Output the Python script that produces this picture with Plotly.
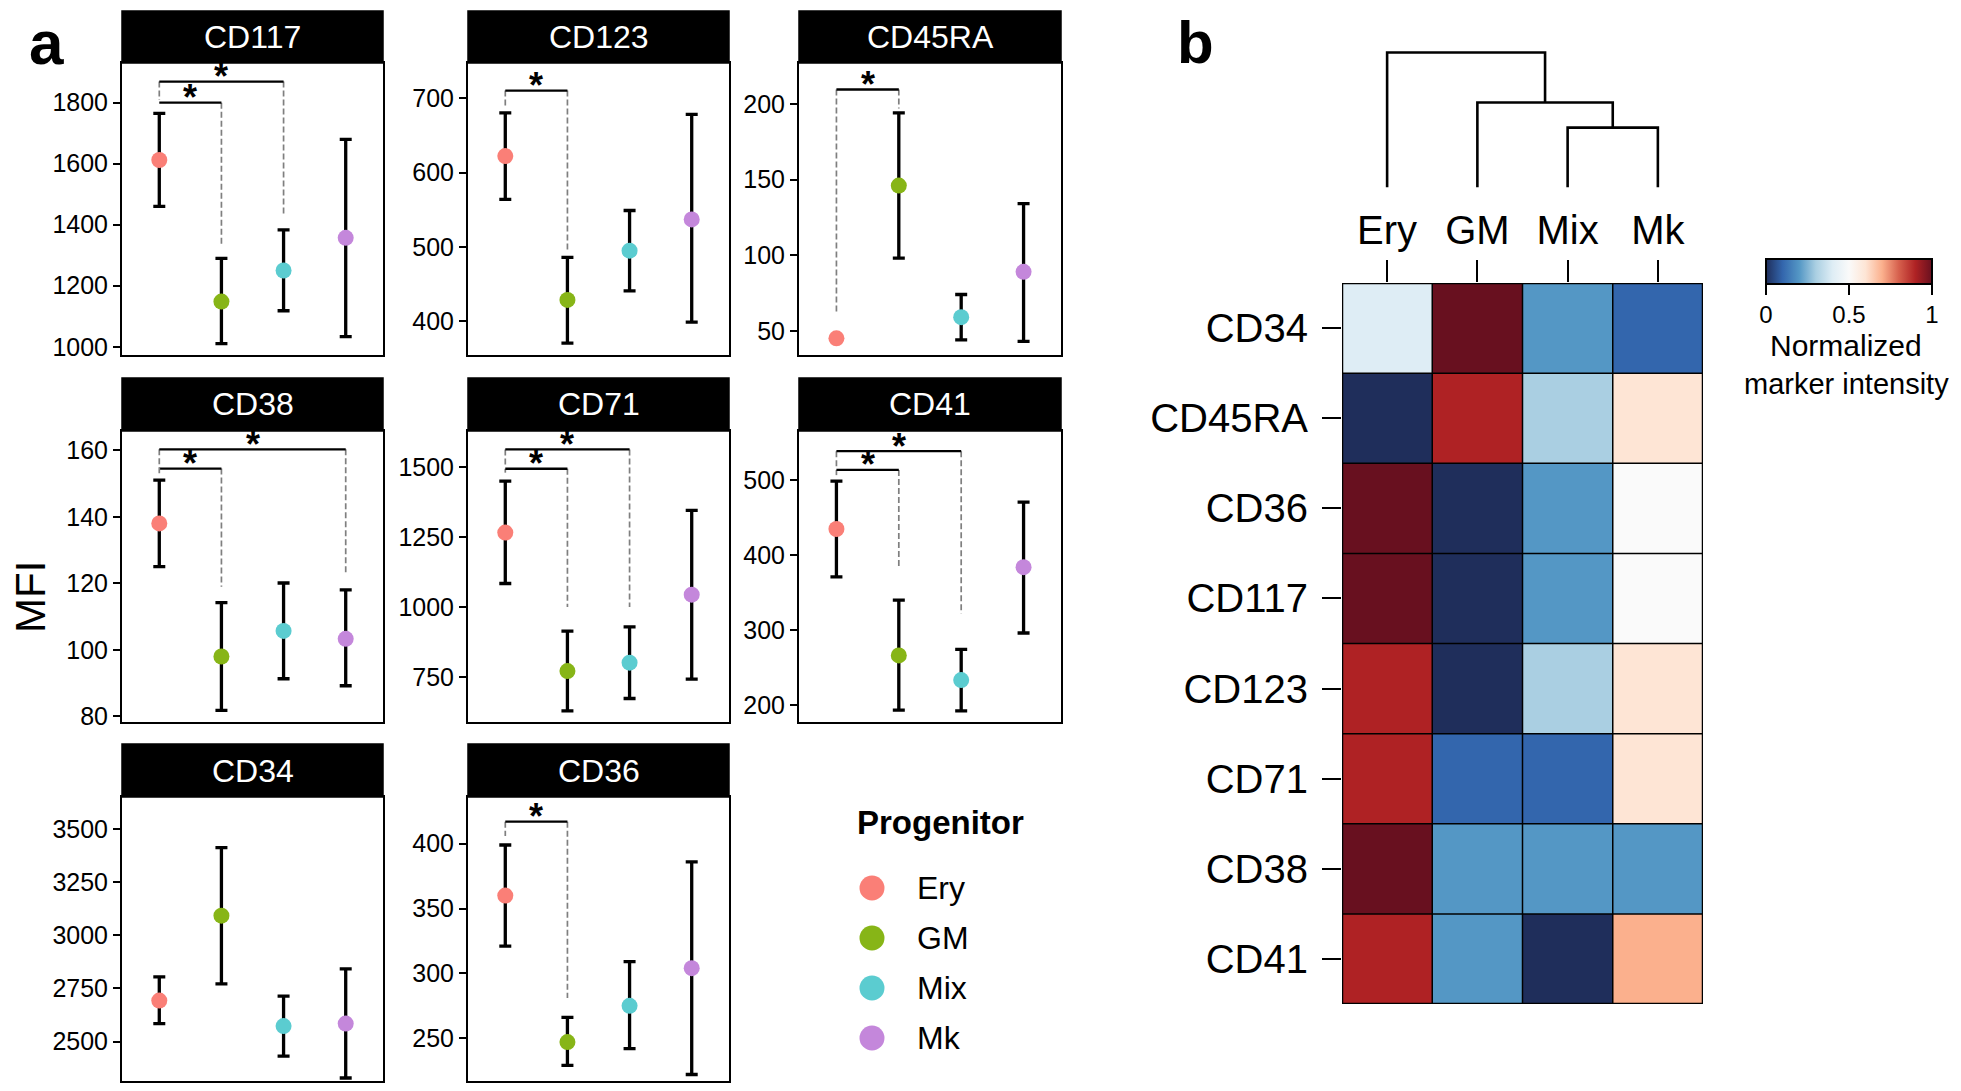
import plotly.graph_objects as go

# The page body has an 8px margin; the figure is sized so that it fits the window.
PAGE_W, PAGE_H = 1961, 1091
OFF = 8
W, H = PAGE_W - 2 * OFF, PAGE_H - 2 * OFF
FONT = "Liberation Sans, Arial, Helvetica, sans-serif"

# ---------------- data ----------------
progenitors = ["Ery", "GM", "Mix", "Mk"]
prog_colors = ["#FA7F77", "#87B517", "#5BCCD0", "#C487DB"]

cd117_mean = [1612, 1148, 1250, 1357]
cd117_low = [1460, 1010, 1118, 1033]
cd117_high = [1765, 1290, 1383, 1680]

cd123_mean = [622, 429, 495, 537]
cd123_low = [564, 371, 441, 399]
cd123_high = [680, 486, 549, 678]

cd45ra_mean = [45, 146, 59, 89]
cd45ra_low = [43.5, 98, 44, 43]
cd45ra_high = [46.5, 194, 74, 134]

cd38_mean = [138, 98, 105.7, 103.3]
cd38_low = [125, 81.8, 91.3, 89.2]
cd38_high = [151, 114.2, 120.1, 118]

cd71_mean = [1266, 771, 801, 1044]
cd71_low = [1084, 629, 673, 742]
cd71_high = [1450, 914, 929, 1345]

cd41_mean = [435, 266, 233, 384]
cd41_low = [371, 193, 192, 296]
cd41_high = [499, 340, 274, 471]

cd34_mean = [2693, 3092, 2573, 2585]
cd34_low = [2585, 2772, 2432, 2329]
cd34_high = [2804, 3412, 2714, 2842]

cd36_mean = [360, 247, 275, 304]
cd36_low = [321, 229, 242, 222]
cd36_high = [399, 266, 309, 386]

# significance brackets: (group1, group2, bracket y, dashed end at group1, dashed end at group2)
sig_cd117 = [("Ery", "GM", 1800, 1800, 1328), ("Ery", "Mix", 1869, 1809, 1432)]
sig_cd123 = [("Ery", "GM", 710, 690, 496)]
sig_cd45ra = [("Ery", "GM", 209.5, 62, 197)]
sig_cd38 = [("Ery", "GM", 154.5, 154.5, 119), ("Ery", "Mk", 160.3, 153, 123)]
sig_cd71 = [("Ery", "GM", 1494, 1480, 1000), ("Ery", "Mix", 1563, 1500, 1000)]
sig_cd41 = [("Ery", "GM", 514, 507, 382), ("Ery", "Mix", 539, 518, 322)]
sig_cd34 = []
sig_cd36 = [("Ery", "GM", 417, 406, 281)]

# heatmap (normalized marker intensity)
heat_markers = ["CD34", "CD45RA", "CD36", "CD117", "CD123", "CD71", "CD38", "CD41"]
heat_ery = [0.40, 0.00, 1.00, 1.00, 0.90, 0.90, 1.00, 0.90]
heat_gm = [1.00, 0.90, 0.00, 0.00, 0.00, 0.10, 0.20, 0.20]
heat_mix = [0.20, 0.30, 0.20, 0.20, 0.30, 0.10, 0.20, 0.00]
heat_mk = [0.10, 0.60, 0.50, 0.50, 0.60, 0.60, 0.20, 0.70]

# dendrogram linkage (scipy style: left id, right id, height)
dendro_left = [2, 1, 0]
dendro_right = [3, 4, 5]
dendro_height = [0.444, 0.63, 1.0]

# ---------------- layout config ----------------
def px(x):
    return min(1.0, max(0.0, (x - OFF) / W))

def py(y):
    return min(1.0, max(0.0, 1 - (y - OFF) / H))

panel_cols = [(122, 383), (468, 729), (799, 1061)]
panel_rows = [(11, 63, 355), (378, 431, 722), (744, 797, 1081)]

panels = [
    ("CD117", 0, 0, [973, 1930], 200, (cd117_mean, cd117_low, cd117_high), sig_cd117),
    ("CD123", 0, 1, [355, 747], 100, (cd123_mean, cd123_low, cd123_high), sig_cd123),
    ("CD45RA", 0, 2, [34, 227], 50, (cd45ra_mean, cd45ra_low, cd45ra_high), sig_cd45ra),
    ("CD38", 1, 0, [78.3, 165.8], 20, (cd38_mean, cd38_low, cd38_high), sig_cd38),
    ("CD71", 1, 1, [589, 1629], 250, (cd71_mean, cd71_low, cd71_high), sig_cd71),
    ("CD41", 1, 2, [177, 566], 100, (cd41_mean, cd41_low, cd41_high), sig_cd41),
    ("CD34", 2, 0, [2315, 3650], 250, (cd34_mean, cd34_low, cd34_high), sig_cd34),
    ("CD36", 2, 1, [217, 436], 50, (cd36_mean, cd36_low, cd36_high), sig_cd36),
]

fig = go.Figure()
layout = {}
shapes = []
annotations = []

xpos = list(range(len(progenitors)))

for k, (name, r, c, yr, dt, (mean, low, high), sigs) in enumerate(panels):
    idx = k + 1
    xa = "x" if idx == 1 else f"x{idx}"
    ya = "y" if idx == 1 else f"y{idx}"
    x0, x1 = panel_cols[c]
    st, pt, pb = panel_rows[r]
    layout["xaxis" if idx == 1 else f"xaxis{idx}"] = dict(
        domain=[px(x0), px(x1)], range=[-0.6, len(progenitors) - 0.4],
        showticklabels=False, ticks="", showgrid=False, zeroline=False,
        showline=True, mirror=True, linecolor="black", linewidth=2,
        anchor=ya, fixedrange=True,
    )
    layout["yaxis" if idx == 1 else f"yaxis{idx}"] = dict(
        domain=[py(pb), py(pt)], range=yr, dtick=dt, tick0=0,
        ticks="outside", ticklen=7, tickwidth=2, tickcolor="black",
        tickfont=dict(size=25, color="black", family=FONT),
        showgrid=False, zeroline=False,
        showline=True, mirror=True, linecolor="black", linewidth=2,
        anchor=xa, fixedrange=True,
    )
    # strip
    shapes.append(dict(type="rect", xref="paper", yref="paper",
                       x0=px(x0), x1=px(x1), y0=py(pt), y1=py(st),
                       fillcolor="black", line=dict(color="black", width=1.5), layer="above"))
    annotations.append(dict(xref="paper", yref="paper", x=px((x0 + x1) / 2), y=py((st + pt) / 2),
                            text=name, showarrow=False, xanchor="center", yanchor="middle",
                            font=dict(size=32, color="white", family=FONT)))
    # significance
    for (g1, g2, by, d1, d2) in sigs:
        i1 = progenitors.index(g1)
        i2 = progenitors.index(g2)
        for ix, de in ((i1, d1), (i2, d2)):
            if de < by:
                fig.add_trace(go.Scatter(x=[ix, ix], y=[by, de], mode="lines",
                                         line=dict(color="#7F7F7F", width=1.7, dash="6px,3px"),
                                         xaxis=xa, yaxis=ya, hoverinfo="skip", showlegend=False))
        fig.add_trace(go.Scatter(x=[i1, i2], y=[by, by], mode="lines",
                                 line=dict(color="black", width=2.3),
                                 xaxis=xa, yaxis=ya, hoverinfo="skip", showlegend=False))
        annotations.append(dict(xref=xa, yref=ya, x=(i1 + i2) / 2, y=by, text="<b>*</b>",
                                showarrow=False, xanchor="center", yanchor="middle", yshift=5,
                                font=dict(size=36, color="black", family=FONT)))
    # points with error bars
    fig.add_trace(go.Scatter(
        x=xpos, y=mean, mode="markers",
        marker=dict(color=prog_colors, size=16, line=dict(width=0)),
        error_y=dict(type="data", symmetric=False,
                     array=[h - m for h, m in zip(high, mean)],
                     arrayminus=[m - l for m, l in zip(mean, low)],
                     color="black", thickness=3.3, width=6),
        xaxis=xa, yaxis=ya, hoverinfo="skip", showlegend=False))

# ---------------- heatmap ----------------
hx0, hx1, hy0, hy1 = 1342, 1703, 283, 1004
z = [[e, g, m, k] for e, g, m, k in zip(heat_ery, heat_gm, heat_mix, heat_mk)]
colorscale = [
    [0.0, "#1F2E5B"], [0.1, "#3366AD"], [0.2, "#5497C5"], [0.3, "#AACFE2"],
    [0.4, "#DEEDF5"], [0.5, "#FAFAFA"], [0.6, "#FEE5D5"], [0.7, "#FBB08D"],
    [0.8, "#D6604D"], [0.9, "#AF2224"], [1.0, "#68101F"],
]
fig.add_trace(go.Heatmap(
    z=z, x=progenitors, y=heat_markers, zmin=0, zmax=1, colorscale=colorscale,
    xaxis="x9", yaxis="y9", hoverinfo="skip",
    colorbar=dict(orientation="h", x=px((1766 + 1932) / 2), xanchor="center",
                  y=py(259), yanchor="top", len=166, lenmode="pixels",
                  thickness=25, thicknessmode="pixels", xpad=0, ypad=0,
                  outlinewidth=2, outlinecolor="black",
                  tickvals=[0, 0.5, 1], ticktext=["0", "0.5", "1"],
                  ticks="outside", ticklen=10, tickwidth=2, tickcolor="black",
                  tickfont=dict(size=24, color="black", family=FONT)),
))
layout["xaxis9"] = dict(domain=[px(hx0), px(hx1)], range=[-0.5, len(progenitors) - 0.5],
                        side="top", ticks="outside", ticklen=22, tickwidth=2, tickcolor="black",
                        ticklabelstandoff=0,
                        tickfont=dict(size=40, color="black", family=FONT),
                        showgrid=False, zeroline=False, showline=False, anchor="y9", fixedrange=True)
layout["yaxis9"] = dict(domain=[py(hy1), py(hy0)], range=[len(heat_markers) - 0.5, -0.5],
                        ticks="outside", ticklen=19, tickwidth=2, tickcolor="black",
                        ticklabelstandoff=6,
                        tickfont=dict(size=40, color="black", family=FONT),
                        showgrid=False, zeroline=False, showline=False, anchor="x9", fixedrange=True)
for i in range(1, len(progenitors)):
    shapes.append(dict(type="line", xref="x9", yref="y9", x0=i - 0.5, x1=i - 0.5,
                       y0=-0.5, y1=len(heat_markers) - 0.5, line=dict(color="black", width=1.5),
                       layer="above"))
for j in range(1, len(heat_markers)):
    shapes.append(dict(type="line", xref="x9", yref="y9", x0=-0.5, x1=len(progenitors) - 0.5,
                       y0=j - 0.5, y1=j - 0.5, line=dict(color="black", width=1.5), layer="above"))
shapes.append(dict(type="rect", xref="x9", yref="y9", x0=-0.5, x1=len(progenitors) - 0.5,
                   y0=-0.5, y1=len(heat_markers) - 0.5, line=dict(color="black", width=2.5),
                   fillcolor="rgba(0,0,0,0)", layer="above"))

# ---------------- dendrogram ----------------
n = len(progenitors)
pos = {i: float(i) for i in range(n)}
hgt = {i: 0.0 for i in range(n)}
dx, dy = [], []
for k, (a, b, h) in enumerate(zip(dendro_left, dendro_right, dendro_height)):
    dx += [pos[a], pos[a], pos[b], pos[b], None]
    dy += [hgt[a], h, h, hgt[b], None]
    pos[n + k] = (pos[a] + pos[b]) / 2
    hgt[n + k] = h
fig.add_trace(go.Scatter(x=dx, y=dy, mode="lines", line=dict(color="black", width=2.6),
                         xaxis="x10", yaxis="y10", hoverinfo="skip", showlegend=False))
layout["xaxis10"] = dict(domain=[px(hx0), px(hx1)], range=[-0.5, n - 0.5], visible=False,
                         anchor="y10", fixedrange=True)
layout["yaxis10"] = dict(domain=[py(187.6), py(39)], range=[0, 1.1], visible=False,
                         anchor="x10", fixedrange=True)

# ---------------- legend ----------------
fig.add_trace(go.Scatter(x=[0] * len(progenitors), y=list(range(len(progenitors))), mode="markers",
                         marker=dict(color=prog_colors, size=25, line=dict(width=0)),
                         xaxis="x11", yaxis="y11", hoverinfo="skip", showlegend=False))
layout["xaxis11"] = dict(domain=[px(847), px(897)], range=[-1, 1], visible=False,
                         anchor="y11", fixedrange=True)
layout["yaxis11"] = dict(domain=[py(1063), py(863)], range=[len(progenitors) - 0.5, -0.5],
                         visible=False, anchor="x11", fixedrange=True)
for i, p in enumerate(progenitors):
    annotations.append(dict(xref="paper", yref="y11", x=px(915), y=i, text=p, showarrow=False,
                            xanchor="left", yanchor="middle",
                            font=dict(size=32, color="black", family=FONT)))
annotations.append(dict(xref="paper", yref="paper", x=px(855), y=py(822), text="<b>Progenitor</b>",
                        showarrow=False, xanchor="left", yanchor="middle",
                        font=dict(size=33, color="black", family=FONT)))

# ---------------- other labels ----------------
annotations.append(dict(xref="paper", yref="paper", x=px(30), y=py(597), text="MFI", textangle=-90,
                        showarrow=False, xanchor="center", yanchor="middle", borderpad=0,
                        font=dict(size=42, color="black", family=FONT)))
annotations.append(dict(xref="paper", yref="paper", x=px(46), y=py(42), text="<b>a</b>",
                        showarrow=False, xanchor="center", yanchor="middle", borderpad=0,
                        font=dict(size=62, color="black", family=FONT)))
annotations.append(dict(xref="paper", yref="paper", x=px(1195), y=py(42), text="<b>b</b>",
                        showarrow=False, xanchor="center", yanchor="middle", borderpad=0,
                        font=dict(size=60, color="black", family=FONT)))
annotations.append(dict(xref="paper", yref="paper", x=px(1846), y=py(345), text="Normalized",
                        showarrow=False, xanchor="center", yanchor="middle", borderpad=0,
                        font=dict(size=30, color="black", family=FONT)))
annotations.append(dict(xref="paper", yref="paper", x=px(1846), y=py(384), text="marker intensity",
                        showarrow=False, xanchor="center", yanchor="middle", borderpad=0,
                        font=dict(size=29, color="black", family=FONT)))

fig.update_layout(
    width=W, height=H, margin=dict(l=0, r=0, t=0, b=0, autoexpand=False),
    paper_bgcolor="white", plot_bgcolor="white",
    showlegend=False, font=dict(family=FONT, color="black"),
    shapes=shapes, annotations=annotations, **layout,
)

fig.write_html("out.html")
